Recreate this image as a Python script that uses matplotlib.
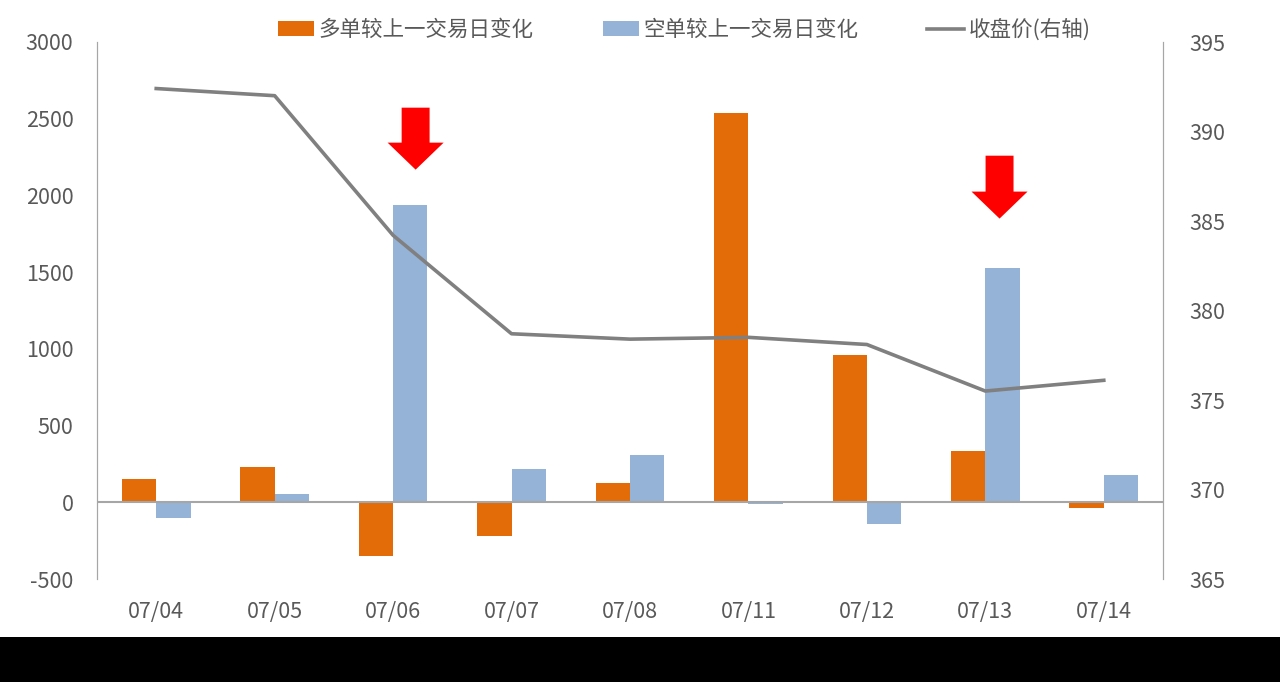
import matplotlib
matplotlib.use('Agg')
import matplotlib.pyplot as plt
from matplotlib.patches import Rectangle, FancyArrow
import numpy as np

plt.rcParams['font.family'] = ['Noto Sans CJK SC', 'DejaVu Sans']
plt.rcParams['axes.unicode_minus'] = False

dates = ['07/04', '07/05', '07/06', '07/07', '07/08', '07/11', '07/12', '07/13', '07/14']
long_change = [150, 228, -352, -221, 124, 2539, 957, 332, -39]
short_change = [-104, 57, 1940, 215, 306, -13, -143, 1530, 176]
close_price = [392.4, 392.0, 384.2, 378.7, 378.4, 378.5, 378.1, 375.5, 376.1]

# arrow marks: (x position, top, tip) in left-axis units
arrows = [(2.19, 2572, 2168), (7.12, 2259, 1849)]

orange = '#E36C09'
blue = '#95B3D7'
grey = '#808080'
txt = '#595959'
axcol = '#A6A6A6'

fig = plt.figure(figsize=(12.8, 6.82), dpi=100)
fig.patch.set_facecolor('white')
ax = fig.add_axes([97/1280, 1-579/682, (1163-97)/1280, (579-42)/682])
ax2 = ax.twinx()

x = np.arange(len(dates))
w = 0.29
b1 = ax.bar(x - w/2, long_change, w, color=orange, label='多单较上一交易日变化', zorder=2)
b2 = ax.bar(x + w/2, short_change, w, color=blue, label='空单较上一交易日变化', zorder=2)
ax.axhline(0, color=axcol, lw=1.5, zorder=3)

ln, = ax2.plot(x, close_price, color=grey, lw=2.6, label='收盘价(右轴)')

for ax_x, top, tip in arrows:
    ax.add_patch(FancyArrow(ax_x, top, 0, tip - top, width=0.236, head_width=0.473,
                            head_length=176, length_includes_head=True,
                            color='#FF0000', lw=0, zorder=5))

ax.set_xlim(-0.5, len(dates) - 0.5)
ax.set_ylim(-500, 3000)
ax.set_yticks(np.arange(-500, 3001, 500))
ax2.set_ylim(365, 395)
ax2.set_yticks(np.arange(365, 396, 5))
ax.set_xticks(x)
ax.set_xticklabels(dates)

for a in (ax, ax2):
    for s in ('top', 'bottom'):
        a.spines[s].set_visible(False)
    a.spines['left'].set_color(axcol)
    a.spines['right'].set_color(axcol)
    a.tick_params(axis='both', length=0, labelsize=15.5, colors=txt)
ax.tick_params(axis='x', pad=16)
ax.tick_params(axis='y', pad=17)
ax2.tick_params(axis='y', pad=19)

fig.legend(handles=[b1, b2, ln], loc='center', bbox_to_anchor=(684/1280, 1-30/682),
           ncol=3, frameon=False, fontsize=15.5, labelcolor=txt,
           handlelength=1.7, handleheight=0.7, handletextpad=0.2, columnspacing=3.2)

fig.add_artist(Rectangle((0, 0), 1, 45/682, transform=fig.transFigure,
                         facecolor='black', edgecolor='none'))

fig.savefig('out.png', dpi=100, facecolor=fig.get_facecolor())
